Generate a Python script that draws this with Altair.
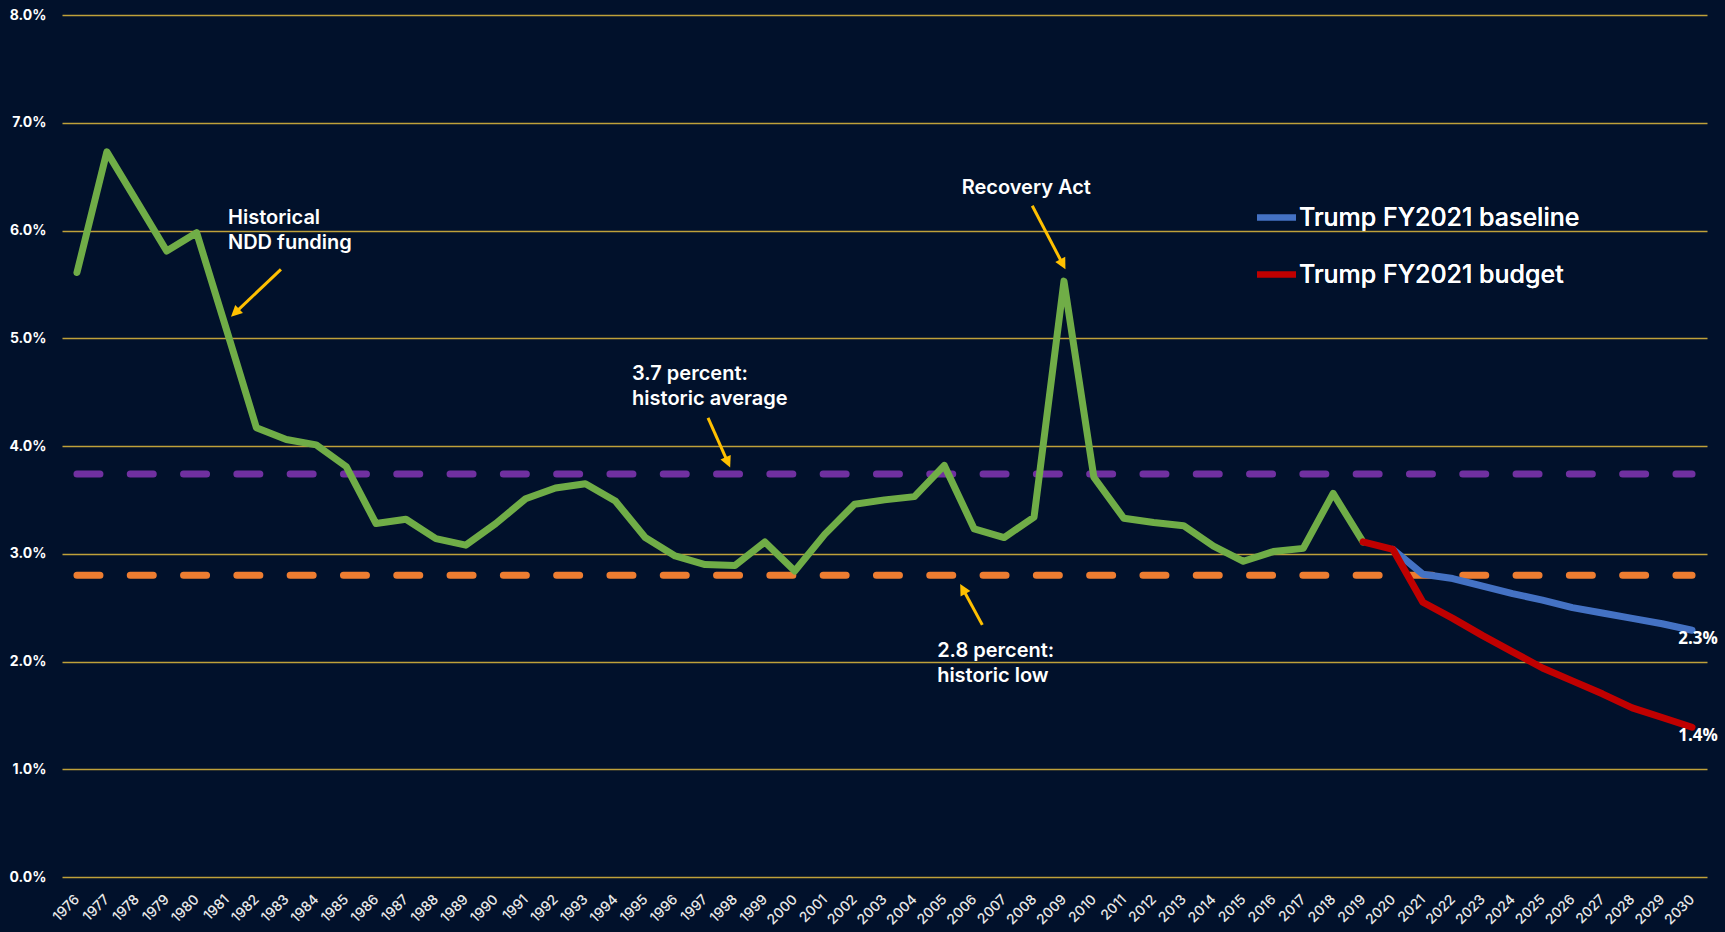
import math
import altair as alt
import pandas as pd

# ---- data (percent of GDP) ----
hist_years = list(range(1976, 2020))
hist_values = [5.61, 6.73, 6.27, 5.81, 5.98, 5.08, 4.17, 4.06, 4.01, 3.81,
               3.28, 3.32, 3.14, 3.08, 3.28, 3.51, 3.61, 3.65, 3.49, 3.15,
               2.98, 2.90, 2.89, 3.11, 2.84, 3.18, 3.46, 3.50, 3.53, 3.82,
               3.23, 3.15, 3.34, 5.53, 3.71, 3.33, 3.29, 3.26, 3.07, 2.93,
               3.02, 3.05, 3.56, 3.11]

baseline_years = list(range(2020, 2031))
baseline_values = [3.04, 2.81, 2.77, 2.70, 2.63, 2.57, 2.50, 2.45, 2.40, 2.35, 2.29]

budget_years = list(range(2019, 2031))
budget_values = [3.11, 3.04, 2.55, 2.40, 2.24, 2.09, 1.94, 1.82, 1.70, 1.57, 1.48, 1.39]

historic_average = 3.74
historic_low = 2.80

series_names = ["Trump FY2021 baseline", "Trump FY2021 budget"]
series_colors = ["#4472C4", "#C00000"]

all_years = list(range(1976, 2031))
y_ticks = [0, 1, 2, 3, 4, 5, 6, 7, 8]

# ---- styling ----
BG = "#01112B"
GRID = "#BFA13A"
ARROW = "#FFC000"
TEXT = "#FFFFFF"
FONT = "Inter"

W, H = 1645, 862
X_DOMAIN = [1975.5, 2030.5]
Y_DOMAIN = [0, 8]
px_per_year = W / (X_DOMAIN[1] - X_DOMAIN[0])
px_per_pct = H / (Y_DOMAIN[1] - Y_DOMAIN[0])

x_scale = alt.Scale(domain=X_DOMAIN, nice=False, zero=False)
y_scale = alt.Scale(domain=Y_DOMAIN, nice=False)

hist_df = pd.DataFrame({"year": hist_years, "value": hist_values})
base_df = pd.DataFrame({"year": baseline_years, "value": baseline_values,
                        "series": series_names[0]})
budg_df = pd.DataFrame({"year": budget_years, "value": budget_values,
                        "series": series_names[1]})

x_axis = alt.Axis(values=all_years, format="d", title=None,
                  grid=False, ticks=False, domain=False,
                  labelAngle=315, labelAlign="right",
                  labelBaseline="middle", labelPadding=20,
                  labelFontSize=14, labelFont=FONT,
                  labelFontWeight=500, labelColor="#E8E8E8",
                  labelOverlap=False, labelFlush=False)
y_axis = alt.Axis(values=y_ticks, title=None, ticks=False,
                  domain=False, grid=True, gridColor=GRID,
                  gridWidth=1.5, gridOpacity=1,
                  labelExpr="format(datum.value, '.1f') + '%'",
                  labelFontSize=14, labelFont=FONT,
                  labelFontWeight=700, labelColor=TEXT,
                  labelPadding=16)


# every layer shares identical scale and axis definitions
def X(field):
    return alt.X(field, scale=x_scale, axis=x_axis)


def Y(field):
    return alt.Y(field, scale=y_scale, axis=y_axis)


# reference levels (dashed)
ref_df = pd.DataFrame({
    "start": [min(all_years)] * 2,
    "end": [max(all_years)] * 2,
    "level": [historic_average, historic_low],
    "kind": ["average", "low"],
})
ref_lines = alt.Chart(ref_df).mark_rule(
    strokeWidth=7, strokeDash=[23, 30.3], strokeCap="round"
).encode(
    x=X("start:Q"),
    x2="end:Q",
    y=Y("level:Q"),
    color=alt.Color("kind:N", scale=alt.Scale(domain=["average", "low"],
                                              range=["#7030A0", "#ED7D31"]),
                    legend=None),
)

line_style = dict(strokeWidth=7, strokeJoin="round", strokeCap="round")

hist_line = alt.Chart(hist_df).mark_line(color="#70AD47", **line_style).encode(
    x=X("year:Q"), y=Y("value:Q"))

color_enc = alt.Color(
    "series:N",
    scale=alt.Scale(domain=series_names, range=series_colors),
    legend=alt.Legend(orient="none", legendX=1192, legendY=180, title=None,
                      symbolType="stroke", symbolSize=1521,
                      symbolStrokeWidth=6, labelFontSize=25, labelFont=FONT,
                      labelFontWeight=500, labelColor=TEXT, labelOffset=0,
                      rowPadding=21, padding=0, labelLimit=0),
)
base_line = alt.Chart(base_df).mark_line(**line_style).encode(
    x=X("year:Q"), y=Y("value:Q"), color=color_enc)
budg_line = alt.Chart(budg_df).mark_line(**line_style).encode(
    x=X("year:Q"), y=Y("value:Q"), color=color_enc)

# end-of-series value labels
end_df = pd.DataFrame({
    "year": [baseline_years[-1], budget_years[-1]],
    "value": [baseline_values[-1], budget_values[-1]],
})
end_df["label"] = end_df["value"].map(lambda v: f"{v:.1f}%")
end_labels = alt.Chart(end_df).mark_text(
    font="Open Sans", fontWeight=700, fontSize=17, color=TEXT,
    align="center", baseline="middle", dx=6, dy=9
).encode(x=X("year:Q"), y=Y("value:Q"), text="label:N")

# annotation texts (positions in year / percent units)
note_df = pd.DataFrame({
    "x": [1981.05, 1994.56, 2004.76],
    "y": [6.06, 4.61, 2.04],
    "text": ["Historical\nNDD funding",
             f"{historic_average:.1f} percent:\nhistoric average",
             f"{historic_low:.1f} percent:\nhistoric low"],
})
notes = alt.Chart(note_df).mark_text(
    font=FONT, fontWeight=600, fontSize=20, color=TEXT, align="left",
    baseline="alphabetic", lineBreak="\n", lineHeight=25
).encode(x=X("x:Q"), y=Y("y:Q"), text="text:N")

recovery_df = pd.DataFrame({"x": [2007.74], "y": [6.34], "text": ["Recovery Act"]})
recovery = alt.Chart(recovery_df).mark_text(
    font=FONT, fontWeight=600, fontSize=20, color=TEXT, align="center",
    baseline="alphabetic"
).encode(x=X("x:Q"), y=Y("y:Q"), text="text:N")

# arrows: tail (x, y) -> head (x2, y2)
arrow_df = pd.DataFrame({
    "x": [1982.82, 2007.94, 1997.10, 2006.27],
    "y": [5.64, 6.23, 4.26, 2.34],
    "x2": [1981.15, 2009.05, 1997.84, 2005.53],
    "y2": [5.20, 5.64, 3.80, 2.72],
})


def head_angle(r):
    sx = (r.x2 - r.x) * px_per_year
    sy = -(r.y2 - r.y) * px_per_pct
    return math.degrees(math.atan2(sx, -sy)) % 360


def shaft_end(r, back=6.0):
    sx = (r.x2 - r.x) * px_per_year
    sy = (r.y2 - r.y) * px_per_pct
    length = math.hypot(sx, sy)
    f = (length - back) / length
    return pd.Series({"xe": r.x + (r.x2 - r.x) * f, "ye": r.y + (r.y2 - r.y) * f})


arrow_df["angle"] = arrow_df.apply(head_angle, axis=1)
arrow_df = pd.concat([arrow_df, arrow_df.apply(shaft_end, axis=1)], axis=1)

shafts = alt.Chart(arrow_df).mark_rule(color=ARROW, strokeWidth=3).encode(
    x=X("x:Q"), x2="xe:Q", y=Y("y:Q"), y2="ye:Q")
heads = alt.Chart(arrow_df).mark_point(
    shape="M0,0L-0.5,1L0.5,1Z", filled=True, color=ARROW, opacity=1,
    size=500, strokeWidth=0
).encode(x=X("x2:Q"), y=Y("y2:Q"),
         angle=alt.Angle("angle:Q", scale=None))

chart = alt.layer(
    ref_lines, hist_line, base_line, budg_line, end_labels, notes, recovery,
    shafts, heads
).properties(
    width=W, height=H, background=BG,
    autosize=alt.AutoSizeParams(type="none"),
    padding={"left": 62, "top": 15, "right": 18, "bottom": 55},
).configure_view(stroke=None).configure_axisX(labelOverlap=False).resolve_scale(
    color="independent")

chart.save("out.html", embed_options={"renderer": "svg", "actions": False})
